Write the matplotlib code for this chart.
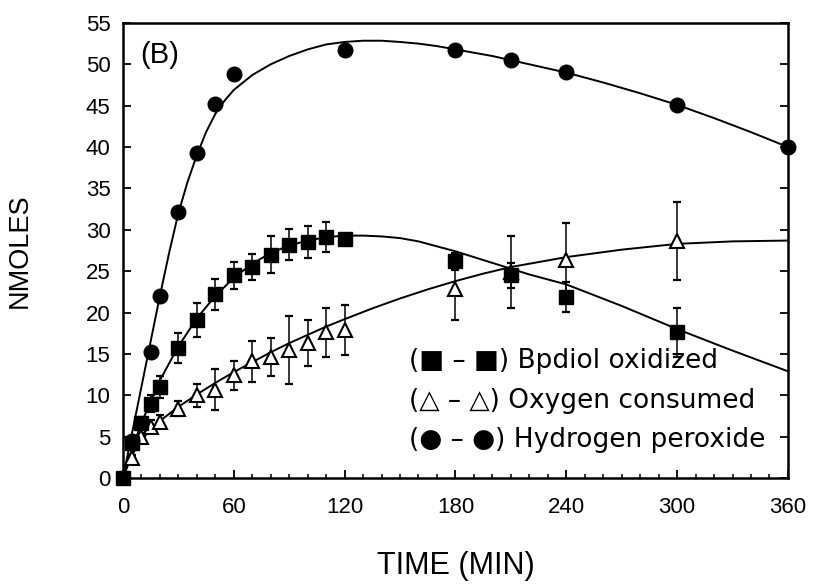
import matplotlib
matplotlib.use("Agg")
import matplotlib.pyplot as plt
import numpy as np

plt.rcParams['font.family'] = ['Liberation Sans', 'DejaVu Sans']

# Points mesures (minutes, nmoles)
t_bp = [0, 5, 10, 15, 20, 30, 40, 50, 60, 70, 80, 90, 100, 110, 120, 180, 210, 240, 300]
bp = [0, 4.2, 6.6, 9.0, 11.0, 15.7, 19.1, 22.2, 24.5, 25.5, 27.0, 28.2, 28.5, 29.1, 28.9, 26.2, 24.5, 21.9, 17.6]
bp_err = [0, 0.5, 0.8, 1.0, 1.3, 1.8, 2.0, 1.9, 1.6, 1.6, 2.2, 1.9, 1.9, 1.8, 0.4, 1.0, 1.5, 1.8, 3.0]

t_ox = [5, 10, 15, 20, 30, 40, 50, 60, 70, 80, 90, 100, 110, 120, 180, 210, 240, 300]
ox = [2.4, 4.9, 6.2, 6.8, 8.4, 10.0, 10.7, 12.4, 14.1, 14.6, 15.5, 16.3, 17.6, 17.9, 22.8, 24.9, 26.4, 28.6]
ox_err = [0.4, 0.6, 0.8, 0.8, 0.9, 1.4, 2.5, 1.8, 2.5, 2.3, 4.1, 2.8, 3.0, 3.0, 3.7, 4.4, 4.4, 4.7]

t_hp = [5, 15, 20, 30, 40, 50, 60, 120, 180, 210, 240, 300, 360]
hp = [4.5, 15.2, 22.0, 32.2, 39.3, 45.2, 48.8, 51.7, 51.7, 50.5, 49.1, 45.1, 40.0]

# Courbes ajustees
tc_hp = [0, 5, 10, 15, 20, 25, 30, 35, 40, 45, 50, 55, 60, 70, 80, 90, 100, 110, 120, 130, 140,
         150, 160, 170, 180, 200, 220, 240, 260, 280, 300, 320, 340, 360]
c_hp = [0, 5.5, 11.0, 16.5, 22.0, 27.2, 32.0, 35.8, 39.0, 41.8, 44.0, 45.6, 46.9, 48.7, 50.0, 51.0,
        51.8, 52.4, 52.7, 52.85, 52.85, 52.7, 52.5, 52.2, 51.8, 51.0, 50.0, 49.0, 47.8, 46.5, 45.1,
        43.5, 41.8, 40.0]

tc_bp = [0, 5, 10, 15, 20, 30, 40, 50, 60, 70, 80, 90, 100, 110, 120, 130, 140, 150, 160, 180,
         200, 220, 240, 270, 300, 330, 360]
c_bp = [0, 3.6, 6.6, 9.3, 11.8, 15.9, 19.3, 22.0, 24.2, 25.9, 27.2, 28.1, 28.7, 29.1, 29.3, 29.3,
        29.2, 29.0, 28.6, 27.4, 26.0, 24.6, 23.4, 20.8, 18.0, 15.4, 12.9]

tc_ox = [0, 5, 10, 15, 20, 30, 40, 50, 60, 70, 80, 90, 100, 110, 120, 135, 150, 165, 180, 195,
         210, 225, 240, 270, 300, 330, 360]
c_ox = [0, 2.8, 4.6, 5.8, 6.9, 8.6, 10.1, 11.5, 12.8, 14.0, 15.2, 16.3, 17.3, 18.3, 19.2, 20.5,
        21.7, 22.8, 23.8, 24.7, 25.5, 26.1, 26.7, 27.6, 28.3, 28.6, 28.7]

legende = ["(\u25a0 \u2013 \u25a0) Bpdiol oxidized",
           "(\u25b3 \u2013 \u25b3) Oxygen consumed",
           "(\u25cf \u2013 \u25cf) Hydrogen peroxide"]

fig = plt.figure(figsize=(8.14, 5.88), dpi=100)
ax = fig.add_axes([0.151, 0.187, 0.817, 0.774])

# courbes
ax.plot(tc_hp, c_hp, color='black', lw=1.4)
ax.plot(tc_bp, c_bp, color='black', lw=1.4)
ax.plot(tc_ox, c_ox, color='black', lw=1.4)

# barres d'erreur
ax.errorbar(t_ox, ox, yerr=ox_err, fmt='none', ecolor='black', elinewidth=1.1, capsize=3, capthick=1.6)
ax.errorbar(t_bp, bp, yerr=bp_err, fmt='none', ecolor='black', elinewidth=1.1, capsize=3, capthick=1.6)

# points
ax.plot(t_ox, ox, linestyle='none', marker='^', ms=10, mfc='white', mec='black', mew=1.5, clip_on=False, zorder=4)
ax.plot(t_hp, hp, linestyle='none', marker='o', ms=10.5, color='black', clip_on=False, zorder=4)
ax.plot(t_bp, bp, linestyle='none', marker='s', ms=10, color='black', clip_on=False, zorder=5)

ax.set_xlim(0, 360)
ax.set_ylim(0, 55)
ax.set_xticks(np.arange(0, 361, 60))
ax.set_xticks(np.arange(0, 361, 10), minor=True)
ax.set_yticks(np.arange(0, 56, 5))
ax.tick_params(axis='both', which='major', direction='in', length=6, width=1.3, labelsize=16)
ax.tick_params(axis='x', which='major', pad=14)
ax.tick_params(axis='y', which='major', pad=9)
ax.tick_params(axis='x', which='minor', direction='in', length=3, width=1.1)
ax.tick_params(axis='y', right=True)
for s in ax.spines.values():
    s.set_linewidth(1.8)

ax.set_xlabel("TIME (MIN)", fontsize=22)
ax.xaxis.set_label_coords(0.5, -0.16)
ax.set_ylabel("NMOLES", fontsize=19.5)
ax.yaxis.set_label_coords(-0.135, 0.5)

ax.text(0.026, 0.93, "(B)", transform=ax.transAxes, fontsize=21, va='center', ha='left')

for i, txt in enumerate(legende):
    ax.text(0.43, 0.257 - i * 0.087, txt, transform=ax.transAxes, fontsize=19,
            family=['DejaVu Sans'], va='center', ha='left')

fig.savefig("out.png", dpi=100)
